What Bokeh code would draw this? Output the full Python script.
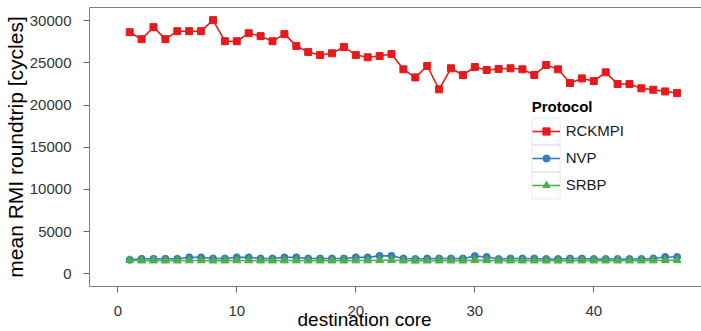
from bokeh.plotting import figure
from bokeh.models import (Range1d, LinearAxis, FixedTicker, Legend, LegendItem,
                          BoxAnnotation, Title, SingleIntervalTicker)
from bokeh.embed import file_html
from bokeh.resources import INLINE

cores = list(range(1, 48))
rckmpi = [28650, 27820, 29250, 27820, 28770, 28770, 28770, 30080, 27580, 27580,
          28530, 28180, 27580, 28420, 27020, 26310, 25950, 26150, 26900, 25950,
          25670, 25830, 26070, 24250, 23290, 24640, 21870, 24370, 23570, 24520,
          24170, 24290, 24370, 24250, 23570, 24760, 24250, 22620, 23170, 22860,
          23890, 22500, 22500, 21990, 21830, 21630, 21430]
nvp = [1660, 1780, 1780, 1780, 1780, 1950, 1950, 1820, 1820, 1950,
       1950, 1820, 1820, 1950, 1950, 1820, 1820, 1820, 1820, 1950,
       1950, 2130, 2130, 1820, 1760, 1820, 1820, 1820, 1820, 2100,
       2000, 1760, 1820, 1820, 1820, 1760, 1760, 1820, 1820, 1760,
       1760, 1760, 1760, 1760, 1820, 2000, 2000]
srbp = [1600, 1560, 1560, 1560, 1560, 1580, 1580, 1560, 1560, 1580,
        1580, 1560, 1560, 1570, 1570, 1560, 1560, 1560, 1560, 1570,
        1570, 1600, 1600, 1560, 1540, 1560, 1560, 1560, 1560, 1600,
        1590, 1550, 1560, 1560, 1560, 1550, 1550, 1560, 1560, 1560,
        1560, 1560, 1560, 1560, 1570, 1600, 1600]

RED, BLUE, GREEN = "#E41A1C", "#377EB8", "#4DAF4A"
FONT = "Liberation Sans"
BORDER = "#808080"

p = figure(width=701, height=331, output_backend="svg", toolbar_location=None,
           x_range=Range1d(-2.38, 49.05), y_range=Range1d(-1506, 31578),
           min_border_left=89, min_border_right=0, min_border_top=7,
           min_border_bottom=45, x_axis_type=None, y_axis_type=None)
p.outline_line_color = None
p.background_fill_color = "white"

xaxis = LinearAxis(ticker=SingleIntervalTicker(interval=10, num_minor_ticks=2))
yaxis = LinearAxis(ticker=SingleIntervalTicker(interval=5000, num_minor_ticks=2))
p.add_layout(xaxis, "below")
p.add_layout(yaxis, "left")

for ax in (xaxis, yaxis):
    ax.axis_line_color = BORDER
    ax.major_tick_line_color = "#666666"
    ax.major_tick_out = 6
    ax.major_tick_in = 0
    ax.minor_tick_out = 0
    ax.minor_tick_in = 0
    ax.major_label_text_font = FONT
    ax.major_label_text_font_size = "15px"
    ax.major_label_text_color = "#333333"
xaxis.major_label_standoff = 13
yaxis.major_label_standoff = 12

yaxis.axis_label = "mean RMI roundtrip [cycles]"
yaxis.axis_label_text_font = FONT
yaxis.axis_label_text_font_size = "21px"
yaxis.axis_label_text_font_style = "normal"
yaxis.axis_label_text_color = "black"
yaxis.axis_label_standoff = 0

top_axis = LinearAxis(ticker=FixedTicker(ticks=[]), major_label_text_font_size="0px",
                      major_tick_out=0, major_tick_in=0, minor_tick_out=0,
                      minor_tick_in=0, axis_line_color=BORDER, major_label_standoff=0)
p.add_layout(top_axis, "above")

p.add_layout(Title(text="destination core", align="left", offset=208, standoff=-20,
                   vertical_align="top", text_font=FONT, text_font_size="19px",
                   text_font_style="normal", text_color="black"), "below")

p.xgrid.ticker = xaxis.ticker
p.ygrid.ticker = yaxis.ticker
for g in (p.xgrid, p.ygrid):
    g.grid_line_color = "#ebebeb"
    g.grid_line_width = 1.2
    g.minor_grid_line_color = "#f5f5f5"
    g.minor_grid_line_width = 1

l1 = p.line(cores, rckmpi, line_color=RED, line_width=1.6)
s1 = p.scatter(cores, rckmpi, marker="square", size=7, fill_color=RED, line_color=RED)
l2 = p.line(cores, nvp, line_color=BLUE, line_width=1.6)
s2 = p.scatter(cores, nvp, marker="circle", size=7, fill_color=BLUE, line_color=BLUE)
l3 = p.line(cores, srbp, line_color=GREEN, line_width=1.6)
s3 = p.scatter(cores, srbp, marker="triangle", size=8, fill_color=GREEN, line_color=GREEN)

leg_x, leg_y = 442.7, 87.7
row_h, key_w = 27, 28
legend = Legend(items=[LegendItem(label="RCKMPI", renderers=[l1, s1]),
                       LegendItem(label="NVP", renderers=[l2, s2]),
                       LegendItem(label="SRBP", renderers=[l3, s3])],
                location=(leg_x, leg_y), title="Protocol",
                glyph_width=key_w, glyph_height=18, label_height=row_h,
                spacing=0, padding=0, margin=0, label_standoff=6,
                border_line_color=None, background_fill_alpha=0,
                title_standoff=2, label_text_font=FONT, label_text_font_size="15px",
                label_text_color="#1a1a1a", title_text_font=FONT,
                title_text_font_size="15px", title_text_font_style="bold",
                title_text_color="black")
p.add_layout(legend)

for i in range(3):
    b = leg_y + i * row_h
    p.add_layout(BoxAnnotation(left=leg_x, right=leg_x + key_w, bottom=b, top=b + row_h,
                               left_units="screen", right_units="screen",
                               bottom_units="screen", top_units="screen",
                               fill_alpha=0, line_color="#c4c4c4", line_width=1.2))

open("out.html", "w").write(file_html(p, INLINE))
